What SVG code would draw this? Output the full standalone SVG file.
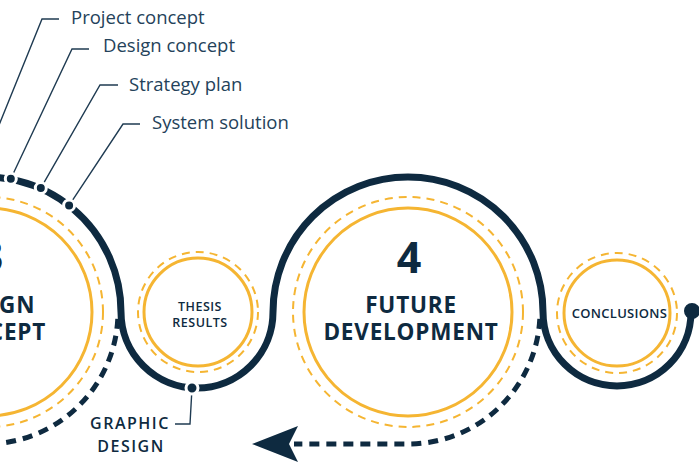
<svg xmlns="http://www.w3.org/2000/svg" width="699" height="462" viewBox="0 0 699 462">
<defs>
<style>
.osolid{fill:none;stroke:#f5b532;stroke-width:3}
.odash{fill:none;stroke:#f5b532;stroke-width:2;stroke-dasharray:8 6}
.main{fill:none;stroke:#0e2a40;stroke-width:7}
.ddash{fill:none;stroke:#0e2a40;stroke-width:5;stroke-dasharray:10 7}
.lead{fill:none;stroke:#1f3b52;stroke-width:1.4}
.dot{fill:#0e2a40;stroke:#ffffff;stroke-width:3}
.big{font-family:"Open Sans","Liberation Sans",sans-serif;font-weight:700;fill:#0e2a40;text-anchor:middle}
.head{font-family:"Open Sans","Liberation Sans",sans-serif;font-weight:700;font-size:22.5px;letter-spacing:0.8px;fill:#0e2a40;text-anchor:middle}
.small{font-family:"Open Sans","Liberation Sans",sans-serif;font-weight:600;fill:#0e2a40;text-anchor:middle}
.label{font-family:"Open Sans","Liberation Sans",sans-serif;font-weight:400;font-size:18.5px;fill:#24425a}
</style>
</defs>
<g id="connectors">
<path class="main" d="M-37.4,179.1 A135,135 0 0 1 121,312 A76,76 0 0 0 273,312 A135,135 0 0 1 543,312 A74,74 0 0 0 691,312"/>
<path class="ddash" d="M117.8,318.9 A132,132 0 0 1 -69.8,431.6"/>
<path class="ddash" d="M539.8,318.9 A132,132 0 0 1 408,444 L294,444"/>
<polygon points="252,444 298,426 289,444 298,462" fill="#0e2a40"/>
<path class="lead" d="M59,19 L42,19 L-22,177"/>
<path class="lead" d="M89,49 L72,49 L10.8,178.8"/>
<path class="lead" d="M118,85 L100,85 L40.8,188.1"/>
<path class="lead" d="M140,124 L123,124 L69.1,205.4"/>
<path class="lead" d="M192,388 L190,424 L175,424"/>
<circle class="dot" cx="10.8" cy="178.8" r="5.5"/>
<circle class="dot" cx="40.8" cy="188.1" r="5.5"/>
<circle class="dot" cx="69.1" cy="205.4" r="5.5"/>
<circle class="dot" cx="192" cy="388" r="6"/>
<circle cx="692" cy="311" r="8" fill="#0e2a40"/>
</g>
<g id="node-design-concept">
<circle class="odash" cx="-12" cy="312" r="115"/>
<circle class="osolid" cx="-12" cy="312" r="104"/>
<text class="big" x="-9" y="272" font-size="43">3</text>
<text class="head" x="-9" y="313">DESIGN</text>
<text class="head" x="-9" y="340">CONCEPT</text>
</g>
<g id="node-thesis-results">
<circle class="odash" cx="198" cy="312" r="60"/>
<circle class="osolid" cx="198" cy="312" r="54"/>
<text class="small" x="200" y="311" font-size="12.5" letter-spacing="0.5">THESIS</text>
<text class="small" x="200" y="327" font-size="12.5" letter-spacing="0.5">RESULTS</text>
</g>
<g id="node-future-development">
<circle class="odash" cx="408" cy="312" r="115"/>
<circle class="osolid" cx="408" cy="312" r="104"/>
<text class="big" x="409" y="273" font-size="43">4</text>
<text class="head" x="411" y="313">FUTURE</text>
<text class="head" x="411" y="340">DEVELOPMENT</text>
</g>
<g id="node-conclusions">
<circle class="odash" cx="617" cy="313" r="60"/>
<circle class="osolid" cx="617" cy="313" r="53"/>
<text class="small" x="619.5" y="318" font-size="13" letter-spacing="0.3">CONCLUSIONS</text>
</g>
<g id="labels">
<text class="label" x="71" y="24">Project concept</text>
<text class="label" x="103" y="52">Design concept</text>
<text class="label" x="129" y="91">Strategy plan</text>
<text class="label" x="152" y="129">System solution</text>
<text class="small" x="130" y="429" font-size="16" letter-spacing="1.5">GRAPHIC</text>
<text class="small" x="131" y="452" font-size="16" letter-spacing="1.5">DESIGN</text>
</g>
</svg>
